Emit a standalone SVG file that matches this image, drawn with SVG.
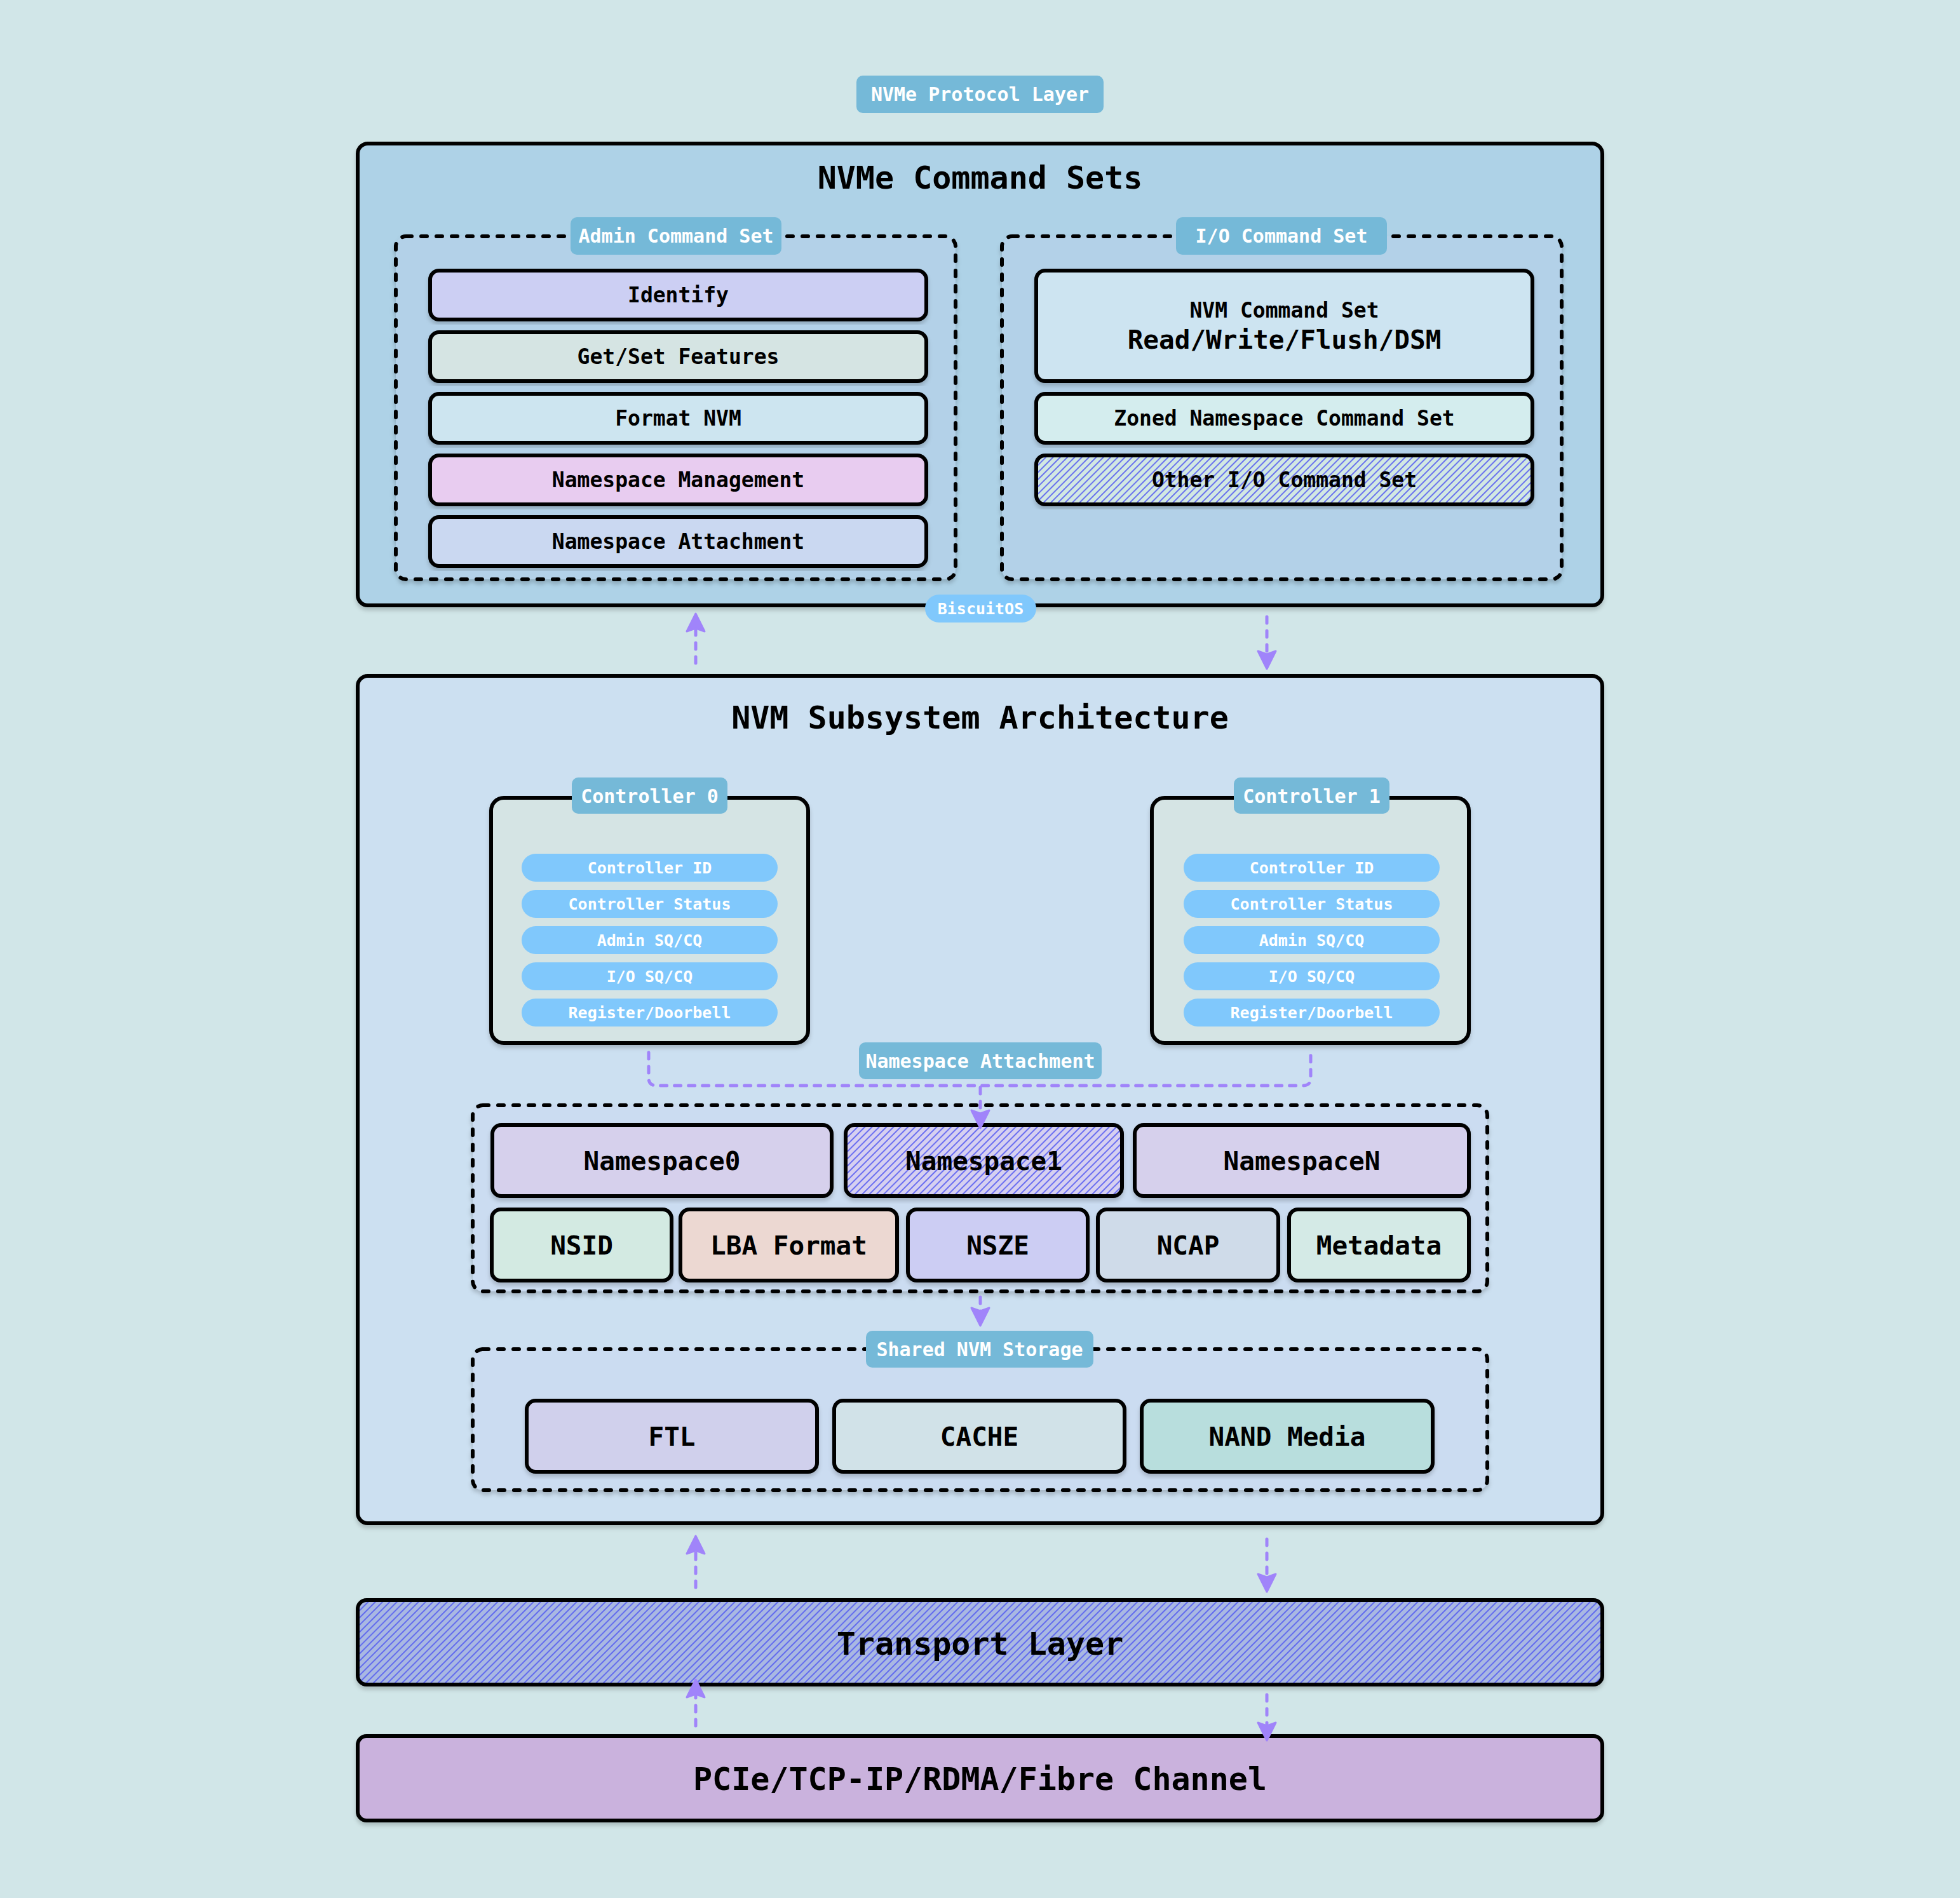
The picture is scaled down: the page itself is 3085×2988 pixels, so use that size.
<svg xmlns="http://www.w3.org/2000/svg" width="3085" height="2988" viewBox="0 0 3085 2988">
<style>
.t{font-family:"DejaVu Sans Mono","Liberation Mono",monospace;font-weight:bold;text-anchor:middle;fill:#000}
.w{fill:#fff}
.f25{font-size:25px}.f30{font-size:30px}.f33{font-size:33px}.f41{font-size:41px}.f50{font-size:50px}
.box{stroke:#000;stroke-width:6}
.dash{stroke:#000;stroke-width:6;stroke-dasharray:9 15;stroke-linecap:round}
.lbl{fill:#75b9d8}
.pill{fill:#80c8fc}
.con{fill:none;stroke:#a084fa;stroke-width:5;stroke-dasharray:10 12;stroke-linecap:round}
.arr{marker-end:url(#ah)}
.sh{filter:url(#shadow)}
</style>
<defs>
<filter id="shadow" x="-5%" y="-5%" width="110%" height="115%">
<feDropShadow dx="0" dy="5" stdDeviation="3" flood-color="#000" flood-opacity="0.18"/>
</filter>
<marker id="ah" markerUnits="userSpaceOnUse" markerWidth="34" markerHeight="34" viewBox="0 0 32 34" refX="22" refY="17" orient="auto" overflow="visible">
<path d="M2,3 L30,17 L2,31 L7,17 Z" fill="#a084fa" stroke="#a084fa" stroke-width="3" stroke-linejoin="round"/>
</marker>
<pattern id="hOther" width="8" height="8" patternUnits="userSpaceOnUse" patternTransform="rotate(45)">
<rect width="8" height="8" fill="#d2e8e2"/><line x1="1" y1="0" x2="1" y2="8" stroke="#4f55f2" stroke-width="1.6"/>
</pattern>
<pattern id="hNs" width="8" height="8" patternUnits="userSpaceOnUse" patternTransform="rotate(45)">
<rect width="8" height="8" fill="#d6d0f0"/><line x1="1" y1="0" x2="1" y2="8" stroke="#4f55f2" stroke-width="1.6"/>
</pattern>
<pattern id="hTr" width="8" height="8" patternUnits="userSpaceOnUse" patternTransform="rotate(45)">
<rect width="8" height="8" fill="#a9b8e2"/><line x1="1" y1="0" x2="1" y2="8" stroke="#5058f2" stroke-width="1.6"/>
</pattern>
</defs>
<rect width="3085" height="2988" fill="#d1e6e8"/>

<g id="protocol-label">
<rect class="lbl" x="1348" y="119" width="389" height="59" rx="10"/>
<text class="t w f30" x="1542.5" y="159">NVMe Protocol Layer</text>
</g>

<g id="command-sets">
<rect class="box sh" x="563" y="226" width="1959" height="727" rx="16" fill="#aed2e7"/>
<text class="t f50" x="1542.5" y="297">NVMe Command Sets</text>
</g>

<g id="admin-set">
<rect class="dash sh" x="623" y="372" width="881" height="540" rx="16" fill="#b3d1e8"/>
<rect class="lbl" x="898" y="342" width="332" height="59" rx="10"/>
<text class="t w f30" x="1064" y="382">Admin Command Set</text>
</g>
<g id="identify"><rect class="box sh" x="677" y="426" width="781" height="77" rx="14" fill="#cccff3"/><text class="t f33" x="1067.5" y="476">Identify</text></g>
<g id="getset"><rect class="box sh" x="677" y="523" width="781" height="77" rx="14" fill="#d5e4e3"/><text class="t f33" x="1067.5" y="573">Get/Set Features</text></g>
<g id="format"><rect class="box sh" x="677" y="620" width="781" height="77" rx="14" fill="#cde5f0"/><text class="t f33" x="1067.5" y="670">Format NVM</text></g>
<g id="nsmgmt"><rect class="box sh" x="677" y="717" width="781" height="77" rx="14" fill="#e8ccf0"/><text class="t f33" x="1067.5" y="767">Namespace Management</text></g>
<g id="nsattach"><rect class="box sh" x="677" y="814" width="781" height="77" rx="14" fill="#cad8f1"/><text class="t f33" x="1067.5" y="864">Namespace Attachment</text></g>

<g id="io-set">
<rect class="dash sh" x="1577" y="372" width="881" height="540" rx="16" fill="#b3d1e8"/>
<rect class="lbl" x="1851" y="342" width="332" height="59" rx="10"/>
<text class="t w f30" x="2017" y="382">I/O Command Set</text>
</g>
<g id="nvmcs"><rect class="box sh" x="1631" y="426" width="781" height="174" rx="14" fill="#cde4f1"/><text class="t f33" x="2021.5" y="500">NVM Command Set</text><text class="t f41" x="2021.5" y="549">Read/Write/Flush/DSM</text></g>
<g id="zoned"><rect class="box sh" x="1631" y="620" width="781" height="77" rx="14" fill="#d4edee"/><text class="t f33" x="2021.5" y="670">Zoned Namespace Command Set</text></g>
<g id="otherio"><rect class="box sh" x="1631" y="717" width="781" height="77" rx="14" fill="url(#hOther)"/><text class="t f33" x="2021.5" y="767">Other I/O Command Set</text></g>

<g id="biscuitos">
<rect class="pill" x="1456" y="936" width="175" height="44" rx="22"/>
<text class="t w f25" x="1543.5" y="967">BiscuitOS</text>
</g>

<g id="subsystem">
<rect class="box sh" x="563" y="1064" width="1959" height="1334" rx="16" fill="#cce0f1"/>
<text class="t f50" x="1542.5" y="1147">NVM Subsystem Architecture</text>
</g>

<g id="controller0">
<rect class="box sh" x="773" y="1256" width="499" height="386" rx="20" fill="#d5e4e4"/>
<rect class="lbl" x="900" y="1224" width="245" height="57" rx="10"/>
<text class="t w f30" x="1022.5" y="1264">Controller 0</text>
<rect class="pill" x="821" y="1344" width="403" height="44" rx="22"/><text class="t w f25" x="1022.5" y="1375">Controller ID</text>
<rect class="pill" x="821" y="1401" width="403" height="44" rx="22"/><text class="t w f25" x="1022.5" y="1432">Controller Status</text>
<rect class="pill" x="821" y="1458" width="403" height="44" rx="22"/><text class="t w f25" x="1022.5" y="1489">Admin SQ/CQ</text>
<rect class="pill" x="821" y="1515" width="403" height="44" rx="22"/><text class="t w f25" x="1022.5" y="1546">I/O SQ/CQ</text>
<rect class="pill" x="821" y="1572" width="403" height="44" rx="22"/><text class="t w f25" x="1022.5" y="1603">Register/Doorbell</text>
</g>

<g id="controller1">
<rect class="box sh" x="1813" y="1256" width="499" height="386" rx="20" fill="#d5e4e4"/>
<rect class="lbl" x="1942" y="1224" width="245" height="57" rx="10"/>
<text class="t w f30" x="2064.5" y="1264">Controller 1</text>
<rect class="pill" x="1863" y="1344" width="403" height="44" rx="22"/><text class="t w f25" x="2064.5" y="1375">Controller ID</text>
<rect class="pill" x="1863" y="1401" width="403" height="44" rx="22"/><text class="t w f25" x="2064.5" y="1432">Controller Status</text>
<rect class="pill" x="1863" y="1458" width="403" height="44" rx="22"/><text class="t w f25" x="2064.5" y="1489">Admin SQ/CQ</text>
<rect class="pill" x="1863" y="1515" width="403" height="44" rx="22"/><text class="t w f25" x="2064.5" y="1546">I/O SQ/CQ</text>
<rect class="pill" x="1863" y="1572" width="403" height="44" rx="22"/><text class="t w f25" x="2064.5" y="1603">Register/Doorbell</text>
</g>

<g id="namespaces">
<rect class="dash sh" x="744" y="1740" width="1597" height="293" rx="16" fill="#cbdcf1"/>
</g>
<g id="ns0"><rect class="box sh" x="775" y="1771" width="534" height="112" rx="14" fill="#d6d0ec"/><text class="t f41" x="1042" y="1842">Namespace0</text></g>
<g id="ns1"><rect class="box sh" x="1331" y="1771" width="435" height="112" rx="14" fill="url(#hNs)"/><text class="t f41" x="1548.5" y="1842">Namespace1</text></g>
<g id="nsn"><rect class="box sh" x="1786" y="1771" width="526" height="112" rx="14" fill="#d6d0ec"/><text class="t f41" x="2049" y="1842">NamespaceN</text></g>
<g id="nsid"><rect class="box sh" x="774" y="1904" width="283" height="112" rx="14" fill="#d3eae2"/><text class="t f41" x="915.5" y="1975">NSID</text></g>
<g id="lba"><rect class="box sh" x="1071" y="1904" width="341" height="112" rx="14" fill="#ecd8d2"/><text class="t f41" x="1241.5" y="1975">LBA Format</text></g>
<g id="nsze"><rect class="box sh" x="1429" y="1904" width="283" height="112" rx="14" fill="#cccdf3"/><text class="t f41" x="1570.5" y="1975">NSZE</text></g>
<g id="ncap"><rect class="box sh" x="1728" y="1904" width="284" height="112" rx="14" fill="#cfdbe9"/><text class="t f41" x="1870" y="1975">NCAP</text></g>
<g id="metadata"><rect class="box sh" x="2029" y="1904" width="283" height="112" rx="14" fill="#d4eae6"/><text class="t f41" x="2170.5" y="1975">Metadata</text></g>

<g id="nsattach-label">
<rect class="lbl" x="1352" y="1641" width="382" height="58" rx="10"/>
<text class="t w f30" x="1543" y="1681">Namespace Attachment</text>
</g>

<g id="shared">
<rect class="dash sh" x="744" y="2124" width="1597" height="222" rx="16" fill="#cbdcf1"/>
<rect class="lbl" x="1363" y="2095" width="358" height="58" rx="10"/>
<text class="t w f30" x="1542" y="2135">Shared NVM Storage</text>
</g>
<g id="ftl"><rect class="box sh" x="829" y="2205" width="457" height="112" rx="14" fill="#d0d0ec"/><text class="t f41" x="1057.5" y="2276">FTL</text></g>
<g id="cache"><rect class="box sh" x="1313" y="2205" width="457" height="112" rx="14" fill="#d1e2e8"/><text class="t f41" x="1541.5" y="2276">CACHE</text></g>
<g id="nand"><rect class="box sh" x="1797" y="2205" width="458" height="112" rx="14" fill="#b8dedd"/><text class="t f41" x="2026" y="2276">NAND Media</text></g>

<g id="transport">
<rect class="box sh" x="563" y="2519" width="1959" height="133" rx="14" fill="url(#hTr)"/>
<text class="t f50" x="1542.5" y="2605">Transport Layer</text>
</g>

<g id="physical">
<rect class="box sh" x="563" y="2733" width="1959" height="133" rx="14" fill="#cab2dd"/>
<text class="t f50" x="1542.5" y="2818">PCIe/TCP-IP/RDMA/Fibre Channel</text>
</g>

<g id="connectors">
<path class="con arr" d="M1095,1044 V974"/>
<path class="con arr" d="M1994,971 V1045"/>
<path class="con" d="M1021,1657 V1697 Q1021,1709 1033,1709 H2051 Q2063,1709 2063,1697 V1657"/>
<path class="con arr" d="M1543,1712 V1768"/>
<path class="con arr" d="M1543,2042 V2079"/>
<path class="con arr" d="M1095,2499 V2426"/>
<path class="con arr" d="M1994,2423 V2498"/>
<path class="con arr" d="M1095,2717 V2652"/>
<path class="con arr" d="M1994,2668 V2732"/>
</g>
</svg>
